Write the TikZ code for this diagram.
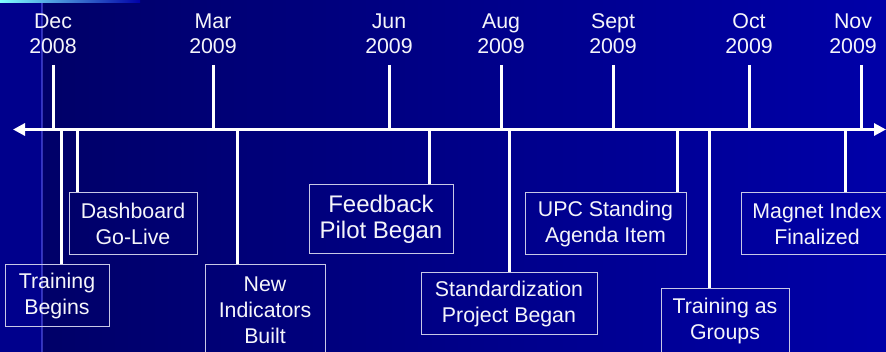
\documentclass[tikz,border=0pt]{standalone}
\usepackage{fontspec}
\setmainfont{Liberation Sans}
\usetikzlibrary{arrows.meta}
\definecolor{navyl}{RGB}{0,0,104}
\definecolor{navyr}{RGB}{0,0,168}
\definecolor{strip}{RGB}{0,0,140}
\definecolor{boxline}{RGB}{200,200,230}
\definecolor{txt}{RGB}{245,245,250}
\tikzset{
  evt/.style={draw=boxline, line width=0.75pt, text=txt, align=center, inner sep=0pt,
    font=\fontsize{16}{19.5}\selectfont},
  datelbl/.style={text=txt, align=center, inner sep=0pt, font=\fontsize{16}{19}\selectfont},
  stem/.style={white, line width=2.25pt},
  axisline/.style={white, line width=2.25pt, {Triangle[length=9pt,width=9pt]}-{Triangle[length=9pt,width=9pt]}}
}
\begin{document}
\begin{tikzpicture}[x=0.75pt,y=-0.75pt]
	\useasboundingbox (0,0) rectangle (886,352);
	\clip (0,0) rectangle (886,352);
	% background
	\fill[strip] (0,0) rectangle (42,352);
	\fill[left color=navyl, right color=navyr] (42,0) rectangle (886,352);
	\draw[blue!60!white, opacity=.5, line width=1pt] (42,0) -- (42,352);
	\draw[right color=navyr, left color=cyan!50!white, draw=none] (0,1) rectangle (140,3);
	
	% dates
	\node[datelbl] (d1) at (53,33.5)  {Dec\\2008};
	\node[datelbl] (d2) at (213,33.5) {Mar\\2009};
	\node[datelbl] (d3) at (389,33.5) {Jun\\2009};
	\node[datelbl] (d4) at (501,33.5) {Aug\\2009};
	\node[datelbl] (d5) at (613,33.5) {Sept\\2009};
	\node[datelbl] (d6) at (749,33.5) {Oct\\2009};
	\node[datelbl] (d7) at (853,33.5) {Nov\\2009};
	
	% events
	\node[evt, minimum width=78pt, minimum height=46.5pt] (tb) at (57,296) {Training\\Begins};
	\node[evt, minimum width=96pt, minimum height=46.5pt] (db) at (133,224) {Dashboard\\Go-Live};
	\node[evt, minimum width=90pt, minimum height=67.5pt] (ni) at (265,310) {New\\Indicators\\Built};
	\node[evt, minimum width=108pt, minimum height=51.75pt, font=\fontsize{18}{19.5}\selectfont] (fb) at (381,219.5) {Feedback\\Pilot Began};
	\node[evt, minimum width=132pt, minimum height=46.5pt] (sp) at (509,304) {Standardization\\Project Began};
	\node[evt, minimum width=120.75pt, minimum height=46.5pt] (upc) at (605.5,224) {UPC Standing\\Agenda Item};
	\node[evt, minimum width=96pt, minimum height=48pt] (tg) at (725,321) {Training as\\Groups};
	\node[evt, minimum width=114pt, minimum height=46.5pt] (mi) at (817,224) {Magnet Index\\Finalized};
	
	% axis
	\coordinate (axl) at (13,129.5);
	\coordinate (axr) at (886,129.5);
	\draw[axisline] (axl) -- (axr);
	
	\foreach \n/\x in {d1/53,d2/213,d3/389,d4/501,d5/613,d6/749,d7/861}
	{\coordinate (t\n) at (\x,65);
	\draw[stem] (t\n) -- (t\n |- axl);}
	
	\foreach \b/\x in {tb/61,db/77,ni/237,fb/429,sp/509,upc/677,tg/709,mi/845}
	{\coordinate (a\b) at (\x,129.5);
	\draw[stem] (a\b) -- (a\b |- \b.north);}
\end{tikzpicture}
\end{document}
